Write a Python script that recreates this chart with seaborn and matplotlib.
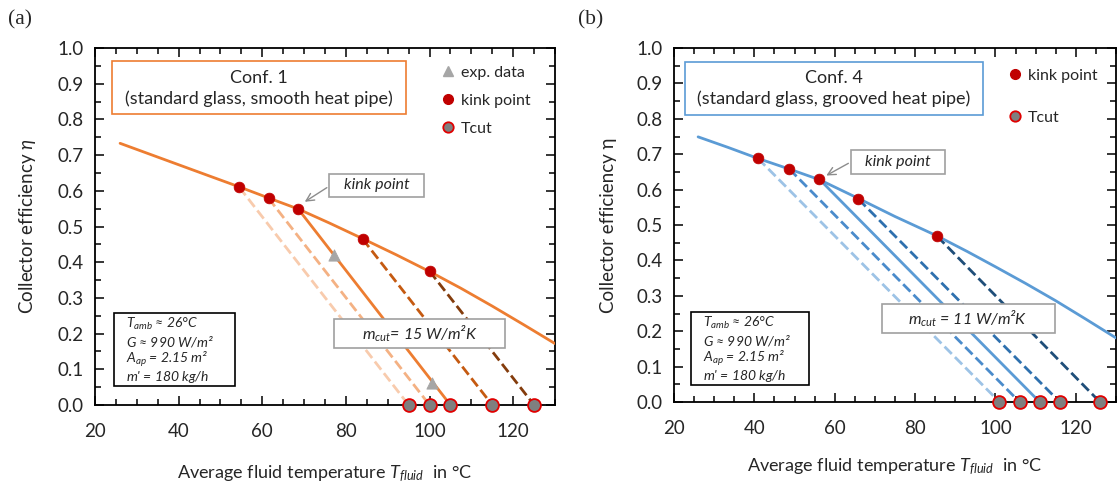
import numpy as np
import pandas as pd
import matplotlib
matplotlib.use("Agg")
import matplotlib.pyplot as plt
from matplotlib.lines import Line2D
from matplotlib.patches import Rectangle
import seaborn as sns

# ---------------- data ----------------
# Panel (a): Conf. 1
a_curve_T = [26, 33, 40, 47, 54.5, 61.5, 68.6, 76, 84, 92, 100, 107.5, 115, 122.5, 130]
a_curve_eta = [0.733, 0.703, 0.673, 0.643, 0.611, 0.580, 0.549, 0.510, 0.466,
               0.421, 0.374, 0.327, 0.277, 0.225, 0.172]
a_kink_T = [54.5, 61.5, 68.6, 84.0, 100.0]
a_kink_eta = [0.610, 0.579, 0.549, 0.465, 0.375]
a_tcut = [95, 100, 105, 115, 125]
a_exp_T = [77.1, 100.6]
a_exp_eta = [0.420, 0.063]

# Panel (b): Conf. 4
b_curve_T = [26, 33.5, 40.9, 48.7, 56.2, 65.9, 75, 85.5, 93, 100, 107.5, 115, 122.5, 130]
b_curve_eta = [0.749, 0.719, 0.688, 0.658, 0.628, 0.575, 0.524, 0.469, 0.425,
               0.382, 0.335, 0.286, 0.234, 0.181]
b_kink_T = [40.9, 48.7, 56.2, 65.9, 85.5]
b_kink_eta = [0.688, 0.658, 0.629, 0.573, 0.468]
b_tcut = [101, 106, 111, 116, 126]

x_ticks = [20, 40, 60, 80, 100, 120]
y_ticks = [0.0, 0.1, 0.2, 0.3, 0.4, 0.5, 0.6, 0.7, 0.8, 0.9, 1.0]
cond_lines = [r"$T_{amb}$ ≈ 26°C", r"$G$ ≈ 990 W/m²", r"$A_{ap}$ = 2.15 m²",
              r"$m$' = 180 kg/h"]

# ---------------- styles ----------------
sns.set_style("ticks")
plt.rcParams['font.family'] = ['Lato', 'DejaVu Sans']
plt.rcParams['mathtext.fontset'] = 'custom'
plt.rcParams['mathtext.rm'] = 'Lato'
plt.rcParams['mathtext.it'] = 'Lato:italic'
plt.rcParams['mathtext.bf'] = 'Lato:bold'

ORANGE = "#ED7D31"
a_cut_colors = ["#F8CBAD", "#F4B183", ORANGE, "#C55A11", "#843C0C"]
a_cut_styles = ["--", "--", "-", "--", "--"]
BLUE = "#5B9BD5"
b_cut_colors = ["#9DC3E6", "#4A8BCB", BLUE, "#2E70AE", "#1F4E79"]
b_cut_styles = ["--", "--", "-", "--", "--"]
RED = "#C00000"
GRAY = "#7F7F7F"
TRI = "#A6A6A6"
BOXGRAY = "#A0A0A0"

fig = plt.figure(figsize=(11.17, 4.84), dpi=100)
ax_a = fig.add_axes([95/1117, 1-405/484, 460/1117, 357/484])
ax_b = fig.add_axes([674/1117, 1-402/484, 442/1117, 354/484])


def style_axes(ax):
    ax.set_xlim(20, 130)
    ax.set_ylim(0, 1.0)
    ax.set_xticks(x_ticks)
    ax.set_xticks(np.arange(20, 131, 5), minor=True)
    ax.set_yticks(y_ticks)
    ax.set_yticks(np.arange(0, 1.001, 0.05), minor=True)
    ax.set_xticklabels([str(t) for t in x_ticks])
    ax.set_yticklabels([f"{t:.1f}" for t in y_ticks])
    ax.tick_params(which='both', direction='in', top=True, right=True,
                   color='black', width=1.1)
    ax.tick_params(which='major', length=6.5, labelsize=13.5, pad=8)
    ax.tick_params(which='minor', length=4)
    ax.tick_params(axis='x', which='major', pad=13)
    for s in ax.spines.values():
        s.set_visible(True)
        s.set_color('black')
        s.set_linewidth(1.3)


def draw_panel(ax, cT, ceta, kT, keta, tcut, cut_colors, cut_styles, main_color):
    df = pd.DataFrame({"T": cT, "eta": ceta})
    sns.lineplot(data=df, x="T", y="eta", ax=ax, color=main_color, lw=2.0,
                 sort=False, estimator=None, zorder=3)
    for i in range(len(kT)):
        seg = pd.DataFrame({"T": [kT[i], tcut[i]], "eta": [keta[i], 0.0]})
        sns.lineplot(data=seg, x="T", y="eta", ax=ax, color=cut_colors[i],
                     lw=2.0, linestyle=cut_styles[i], sort=False,
                     estimator=None, zorder=2)
    sns.scatterplot(x=kT, y=keta, ax=ax, color=RED, s=60, edgecolor=RED,
                    linewidth=0.5, zorder=5)
    sns.scatterplot(x=tcut, y=[0.0] * len(tcut), ax=ax, color=GRAY, s=85,
                    edgecolor="#E00000", linewidth=1.3, zorder=6, clip_on=False)
    ax.set_xlabel("")
    ax.set_ylabel("")


def box(ax, x0, y0, x1, y1, color, lw=1.2):
    ax.add_patch(Rectangle((x0, y0), x1 - x0, y1 - y0, fill=True,
                           facecolor='white', edgecolor=color, lw=lw,
                           zorder=7))


def cond_box(ax, x0, y0, x1, y1, tx, ys):
    box(ax, x0, y0, x1, y1, 'black')
    for txt, yy in zip(cond_lines, ys):
        ax.text(tx, yy, txt, ha='left', va='center', fontsize=10,
                style='italic', zorder=8)


# ---------------- panel (a) ----------------
draw_panel(ax_a, a_curve_T, a_curve_eta, a_kink_T, a_kink_eta, a_tcut,
           a_cut_colors, a_cut_styles, ORANGE)
sns.scatterplot(x=a_exp_T, y=a_exp_eta, ax=ax_a, color=TRI, marker="^",
                s=65, edgecolor=TRI, zorder=4)
style_axes(ax_a)

box(ax_a, 24.1, 0.815, 94.4, 0.964, ORANGE)
ax_a.text(59.2, 0.915, "Conf. 1", ha='center', va='center', fontsize=13, zorder=8)
ax_a.text(59.2, 0.858, "(standard glass, smooth heat pipe)", ha='center',
          va='center', fontsize=13, zorder=8)
cond_box(ax_a, 24.6, 0.053, 53.4, 0.259, 27.4, [0.227, 0.177, 0.128, 0.079])
box(ax_a, 77.2, 0.161, 118.0, 0.240, BOXGRAY)
ax_a.text(97.6, 0.200, r"$m_{cut}$= 15 W/m²K", ha='center', va='center',
          fontsize=11.5, style='italic', zorder=8)
box(ax_a, 76.0, 0.583, 98.7, 0.648, BOXGRAY)
ax_a.text(87.3, 0.615, "kink point", ha='center', va='center', fontsize=11.5,
          style='italic', zorder=8)
ax_a.annotate("", xy=(69.6, 0.565), xytext=(76.0, 0.613),
              arrowprops=dict(arrowstyle='->', color='#8C8C8C', lw=1.0,
                              mutation_scale=14), zorder=8)

leg_a = [Line2D([], [], ls='', marker='^', color=TRI, ms=7, label='exp. data'),
         Line2D([], [], ls='', marker='o', color=RED, ms=7, label='kink point'),
         Line2D([], [], ls='', marker='o', markerfacecolor=GRAY,
                markeredgecolor='#E00000', mew=1.3, ms=7.5, label='Tcut')]
ax_a.legend(handles=leg_a, loc='upper left', bbox_to_anchor=(0.754, 0.95),
            frameon=False, fontsize=11.5, handlelength=0.8, handletextpad=0.4,
            labelspacing=0.85, borderpad=0, borderaxespad=0)

ax_a.set_ylabel(r"Collector efficiency $\eta$", fontsize=13.5, labelpad=14)
ax_a.set_xlabel(r"Average fluid temperature $T_{fluid}$  in °C", fontsize=13,
                labelpad=17)

# ---------------- panel (b) ----------------
draw_panel(ax_b, b_curve_T, b_curve_eta, b_kink_T, b_kink_eta, b_tcut,
           b_cut_colors, b_cut_styles, BLUE)
style_axes(ax_b)

box(ax_b, 22.8, 0.810, 96.8, 0.960, BLUE)
ax_b.text(59.8, 0.914, "Conf. 4", ha='center', va='center', fontsize=13, zorder=8)
ax_b.text(59.8, 0.858, "(standard glass, grooved heat pipe)", ha='center',
          va='center', fontsize=13, zorder=8)
cond_box(ax_b, 24.2, 0.047, 53.7, 0.254, 27.2, [0.223, 0.173, 0.123, 0.074])
box(ax_b, 71.7, 0.196, 114.7, 0.276, BOXGRAY)
ax_b.text(93.2, 0.236, r"$m_{cut}$ = 11 W/m²K", ha='center', va='center',
          fontsize=11.5, style='italic', zorder=8)
box(ax_b, 64.0, 0.645, 87.4, 0.711, BOXGRAY)
ax_b.text(75.7, 0.678, "kink point", ha='center', va='center', fontsize=11.5,
          style='italic', zorder=8)
ax_b.annotate("", xy=(57.3, 0.636), xytext=(64.0, 0.678),
              arrowprops=dict(arrowstyle='->', color='#8C8C8C', lw=1.0,
                              mutation_scale=14), zorder=8)

leg_b = [Line2D([], [], ls='', marker='o', color=RED, ms=7, label='kink point'),
         Line2D([], [], ls='', marker='o', markerfacecolor=GRAY,
                markeredgecolor='#E00000', mew=1.3, ms=7.5, label='Tcut')]
ax_b.legend(handles=leg_b, loc='upper left', bbox_to_anchor=(0.757, 0.942),
            frameon=False, fontsize=11.5, handlelength=0.8, handletextpad=0.4,
            labelspacing=1.75, borderpad=0, borderaxespad=0)

ax_b.set_ylabel("Collector efficiency η", fontsize=13.5, labelpad=14)
ax_b.set_xlabel(r"Average fluid temperature $T_{fluid}$  in °C", fontsize=13,
                labelpad=14)

fig.text(8/1117, 1-20/484, "(a)", family='Liberation Serif', fontsize=15.5,
         ha='left', va='center')
fig.text(578/1117, 1-20/484, "(b)", family='Liberation Serif', fontsize=15.5,
         ha='left', va='center')

fig.savefig("out.png", dpi=100)
